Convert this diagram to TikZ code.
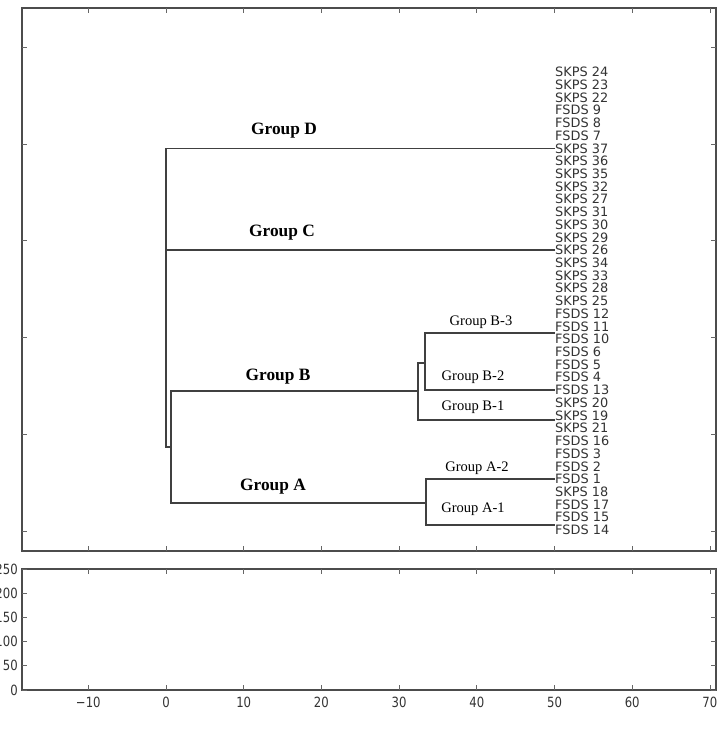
\documentclass[tikz,border=0pt]{standalone}
\usepackage{fontspec}
\setmainfont{Liberation Serif}
\newfontfamily\feuillefont{DejaVu Sans}
\newfontfamily\axefont{DejaVu Sans}[FakeStretch=0.83]
\usepackage{tikz}

\tikzset{
  cadre/.style={draw=black!70, line width=1.3pt},
  branche/.style={draw=black!75, line width=1pt},
  graduation/.style={draw=black!60, line width=0.6pt},
  feuille/.style={anchor=west, inner sep=0pt, text=black!80, font=\feuillefont\fontsize{11}{11}\selectfont},
  groupe/.style={font=\bfseries\fontsize{14.8}{15}\selectfont},
  sousgroupe/.style={font=\fontsize{12.4}{13}\selectfont},
  valeur/.style={text=black!80, font=\axefont\fontsize{12}{12}\selectfont}
}

\begin{document}
\begin{tikzpicture}[x=0.03cm, y=-0.03cm]
  \useasboundingbox (0,0) rectangle (718,730);

  % Cadres (dendrogramme et panneau du bas)
  \draw[cadre] (22,8) rectangle (716,551);
  \draw[cadre] (22,569) rectangle (716,690);

  % Graduations en x
  \foreach \v/\txt in {-10/−10, 0/0, 10/10, 20/20, 30/30, 40/40, 50/50, 60/60, 70/70} {
    \pgfmathsetmacro{\px}{166+7.77*\v}
    \draw[graduation] (\px,8) -- ++(0,5);
    \draw[graduation] (\px,551) -- ++(0,-5);
    \draw[graduation] (\px,569) -- ++(0,5);
    \draw[graduation] (\px,690) -- ++(0,-5);
    \node[valeur] at (\px,702) {\txt};
  }

  % Graduations en y
  \foreach \py in {47,144,240,337,434,531} {
    \draw[graduation] (22,\py) -- ++(5,0);
    \draw[graduation] (716,\py) -- ++(-5,0);
  }
  \foreach \py/\txt in {690/0, 665.8/50, 641.6/100, 617.4/150, 593.2/200, 569/250} {
    \draw[graduation] (22,\py) -- ++(5,0);
    \draw[graduation] (716,\py) -- ++(-5,0);
    \node[valeur, anchor=east, inner sep=0pt] at (18,\py) {\txt};
  }

  % Feuilles
  \foreach \nom/\txt [count=\i from 0] in {s24/SKPS 24, s23/SKPS 23, s22/SKPS 22, f9/FSDS 9, f8/FSDS 8, f7/FSDS 7,
      s37/SKPS 37, s36/SKPS 36, s35/SKPS 35, s32/SKPS 32, s27/SKPS 27, s31/SKPS 31, s30/SKPS 30, s29/SKPS 29,
      s26/SKPS 26, s34/SKPS 34, s33/SKPS 33, s28/SKPS 28, s25/SKPS 25, f12/FSDS 12, f11/FSDS 11, f10/FSDS 10,
      f6/FSDS 6, f5/FSDS 5, f4/FSDS 4, f13/FSDS 13, s20/SKPS 20, s19/SKPS 19, s21/SKPS 21, f16/FSDS 16,
      f3/FSDS 3, f2/FSDS 2, f1/FSDS 1, s18/SKPS 18, f17/FSDS 17, f15/FSDS 15, f14/FSDS 14}
    \node[feuille] (\nom) at (555,72+12.72*\i) {\txt};

  % Points de jonction
  \coordinate (xr) at (166,0);
  \coordinate (ab) at (171,447);
  \coordinate (bj) at (418,391);
  \coordinate (bs) at (425,363);
  \coordinate (aj) at (426,503);
  \coordinate (b3) at (555,333);
  \coordinate (b1) at (555,420);
  \coordinate (a1) at (555,525);

  % Racine : groupes D et C
  \draw[branche] (s37.west) -- (s37.west -| xr) -- (xr |- ab) -- (ab);
  \draw[branche] (s26.west) -- (s26.west -| xr);

  % Groupes A et B
  \draw[branche] (bj) -- (bj -| ab) -- (aj -| ab) -- (aj);

  % Sous-groupes de B
  \draw[branche] (b1) -- (b1 -| bj) -- (bs -| bj) -- (bs);
  \draw[branche] (b3) -- (b3 -| bs) -- (f13.west -| bs) -- (f13.west);

  % Sous-groupes de A
  \draw[branche] (f1.west) -- (f1.west -| aj) -- (a1 -| aj) -- (a1);

  % Etiquettes
  \node[groupe] (gD) at (284,131) {Group D};
  \node[groupe] (gC) at (282,233) {Group C};
  \node[groupe] (gB) at (278,377) {Group B};
  \node[groupe] (gA) at (273,487) {Group A};
  \node[sousgroupe] (gB3) at (481,322) {Group B-3};
  \node[sousgroupe] (gB2) at (473,377) {Group B-2};
  \node[sousgroupe] (gB1) at (473,407) {Group B-1};
  \node[sousgroupe] (gA2) at (477,468) {Group A-2};
  \node[sousgroupe] (gA1) at (473,509) {Group A-1};
\end{tikzpicture}
\end{document}
